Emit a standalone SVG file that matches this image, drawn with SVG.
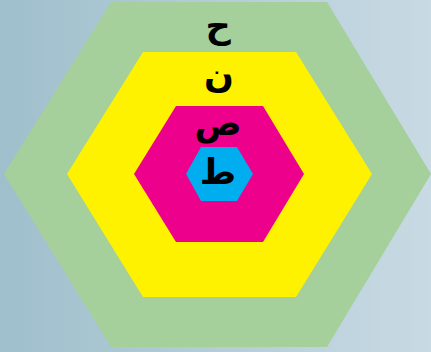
<svg xmlns="http://www.w3.org/2000/svg" width="431" height="352" viewBox="0 0 431 352">
<defs>
<linearGradient id="bg" x1="0" y1="0" x2="1" y2="0">
<stop offset="0" stop-color="#9fbfcc"/>
<stop offset="1" stop-color="#c8dae4"/>
</linearGradient>
</defs>
<style>
.t{font-family:"DejaVu Sans",sans-serif;font-weight:bold;font-size:35px;fill:#000;text-anchor:middle}
</style>
<rect x="0" y="0" width="431" height="352" fill="url(#bg)"/>
<g id="outer"><polygon points="111,2 327,2 431,174 327,347 111,347 4,174" fill="#a5d09b"/><text class="t" x="218" y="37">ح</text></g>
<g id="second"><polygon points="143,52 296,52 372,174 296,297 143,297 67,174" fill="#fff200"/><text class="t" x="219" y="87">ن</text></g>
<g id="third"><polygon points="176,106 263,106 304,174 263,242 176,242 134,174" fill="#ec008c"/><text class="t" x="218" y="135">ص</text></g>
<g id="inner"><polygon points="201,147 237,147 253,174 237,201 201,201 186,174" fill="#00aeef"/><text class="t" x="218" y="184">ط</text></g>
<g id="connectors"/>
</svg>
